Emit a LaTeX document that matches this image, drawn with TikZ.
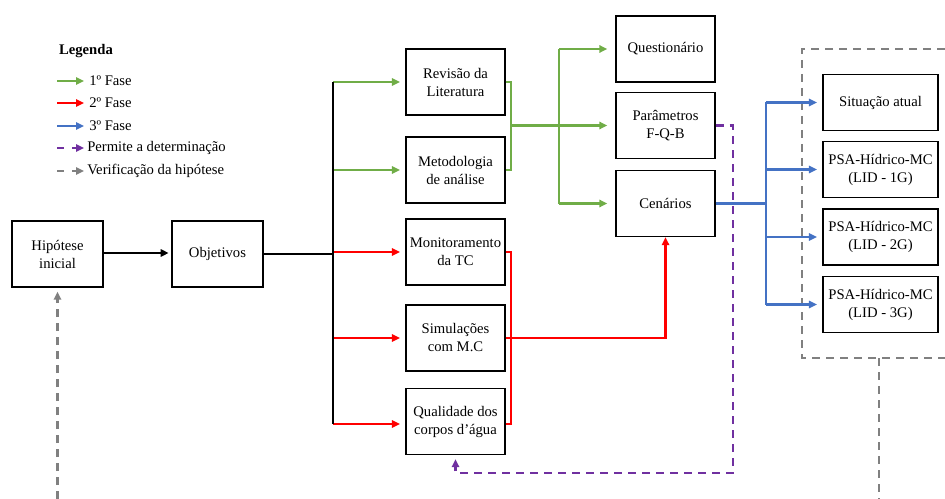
\documentclass[tikz,border=0pt]{standalone}
\usepackage{fontspec}
\setmainfont{Liberation Serif}
\usetikzlibrary{arrows.meta}
\definecolor{cgreen}{RGB}{112,173,71}
\definecolor{cred}{RGB}{255,0,0}
\definecolor{cblue}{RGB}{68,114,196}
\definecolor{cpurple}{RGB}{112,48,160}
\definecolor{cgray}{RGB}{128,128,128}
\tikzset{
  box/.style={draw=black, line width=1.05pt, align=center, inner sep=0pt,
    font=\fontsize{11}{13.5}\selectfont, minimum width=74.25pt, minimum height=49.5pt},
  smallbox/.style={box, minimum width=68.25pt},
  rbox/.style={box, minimum width=86.25pt, minimum height=42pt},
  tip/.style={-{Triangle[length=6pt,width=5.5pt]}},
  conn/.style={line width=1.6pt},
  gline/.style={conn, cgreen},
  rline/.style={conn, cred},
  bline/.style={conn, cblue},
  pline/.style={conn, cpurple, dash pattern=on 6pt off 4.5pt},
  grline/.style={conn, cgray, dash pattern=on 6pt off 4.5pt},
  legtxt/.style={anchor=west, inner sep=0pt, font=\fontsize{11}{13.5}\selectfont},
}
\begin{document}
\begin{tikzpicture}[x=0.75pt,y=-0.75pt]
\useasboundingbox (0,0) rectangle (945,499);

% legend
\node[anchor=center, inner sep=0pt, font=\fontsize{11}{13.5}\selectfont\bfseries] (leg) at (86,51) {Legenda};
\coordinate (l1a) at (57,81); \coordinate (l1b) at (84,81);
\coordinate (l2a) at (57,103); \coordinate (l2b) at (84,103);
\coordinate (l3a) at (57,126); \coordinate (l3b) at (84,126);
\draw[gline,tip] (l1a) -- (l1b);
\draw[rline,tip] (l2a) -- (l2b);
\draw[bline,tip] (l3a) -- (l3b);
\draw[conn,cpurple] (57,148) -- (64,148);
\draw[conn,cpurple,tip] (72,148) -- (84,148);
\draw[conn,cgray] (57,171) -- (64,171);
\draw[conn,cgray,tip] (72,171) -- (84,171);
\node[legtxt] (t1) at (89,81) {1º Fase};
\node[legtxt] (t2) at (89,103) {2º Fase};
\node[legtxt] (t3) at (89,126) {3º Fase};
\node[legtxt] (t4) at (87,148) {Permite a determinação};
\node[legtxt] (t5) at (87,171) {Verificação da hipótese};

% boxes
\node[smallbox] (hip) at (57.5,254) {Hipótese\\inicial};
\node[smallbox] (obj) at (217.5,254) {Objetivos};
\node[box] (rev) at (455.5,82) {Revisão da\\Literatura};
\node[box] (met) at (455.5,170) {Metodologia\\de análise};
\node[box] (mon) at (455.5,252) {Monitoramento\\da TC};
\node[box] (sim) at (455.5,338) {Simulações\\com M.C};
\node[box] (qua) at (455.5,421.5) {Qualidade dos\\corpos d’água};
\node[box] (que) at (665.5,49) {Questionário};
\node[box] (par) at (665.5,125.5) {Parâmetros\\F-Q-B};
\node[box] (cen) at (665.5,203.5) {Cenários};
\node[rbox] (sit) at (880.5,102.5) {Situação atual};
\node[rbox] (p1) at (880.5,169.5) {PSA-Hídrico-MC\\(LID - 1G)};
\node[rbox] (p2) at (880.5,237) {PSA-Hídrico-MC\\(LID - 2G)};
\node[rbox] (p3) at (880.5,304.5) {PSA-Hídrico-MC\\(LID - 3G)};

% container
\draw[grline] (945,49) -- (802,49) -- (802,358) -- (945,358);
\coordinate (cb) at (879,358);
\coordinate (cbot) at (879,499);
\draw[grline] (cb) -- (cbot);
\coordinate (hbot) at (57.5,499);
\draw[grline,tip,shorten >=3pt] (hbot) -- (hip.south);

% main flow
\coordinate (bar) at (333,254);
\draw[conn,black,tip,shorten >=2pt] (hip.east |- 0,253) -- (obj.west |- 0,253);
\draw[gline,tip,shorten >=4pt] (bar |- rev.west) -- (rev.west);
\draw[gline,tip,shorten >=4pt] (bar |- met.west) -- (met.west);
\draw[rline,tip,shorten >=4pt] (bar |- mon.west) -- (mon.west);
\draw[rline,tip,shorten >=4pt] (bar |- sim.west) -- (sim.west);
\draw[rline,tip,shorten >=4pt] (bar |- 0,424) -- (qua.west |- 0,424);
\draw[conn,black] (obj.east) -- (bar);
\draw[conn,black] (bar |- rev.west) -- (bar |- 0,424);

% green merge
\coordinate (gm) at (511,125.5);
\draw[gline] (rev.east) -| (gm) |- (met.east);
\draw[gline,tip,shorten >=6pt] (gm) -- (par.west);
\coordinate (gx) at (559,125.5);
\draw[gline] (gx |- que.west) -- (gx |- cen.west);
\draw[gline,tip,shorten >=6pt] (gx |- que.west) -- (que.west);
\draw[gline,tip,shorten >=6pt] (gx |- cen.west) -- (cen.west);

% red merge
\coordinate (rm) at (511,338);
\draw[rline] (mon.east) -| (rm |- 0,424) -- (qua.east |- 0,424);
\draw[rline,tip] (sim.east) -| (cen.south);

% purple
\coordinate (pc) at (733,473);
\draw[pline,tip,shorten >=3pt] (par.east) -| (pc) -| (qua.south);

% blue
\coordinate (bx) at (766,203.5);
\draw[bline] (cen.east) -- (bx);
\draw[bline] (bx |- sit.west) -- (bx |- p3.west);
\draw[bline,tip,shorten >=4pt] (bx |- sit.west) -- (sit.west);
\draw[bline,tip,shorten >=4pt] (bx |- p1.west) -- (p1.west);
\draw[bline,tip,shorten >=4pt] (bx |- p2.west) -- (p2.west);
\draw[bline,tip,shorten >=4pt] (bx |- p3.west) -- (p3.west);
\end{tikzpicture}
\end{document}
